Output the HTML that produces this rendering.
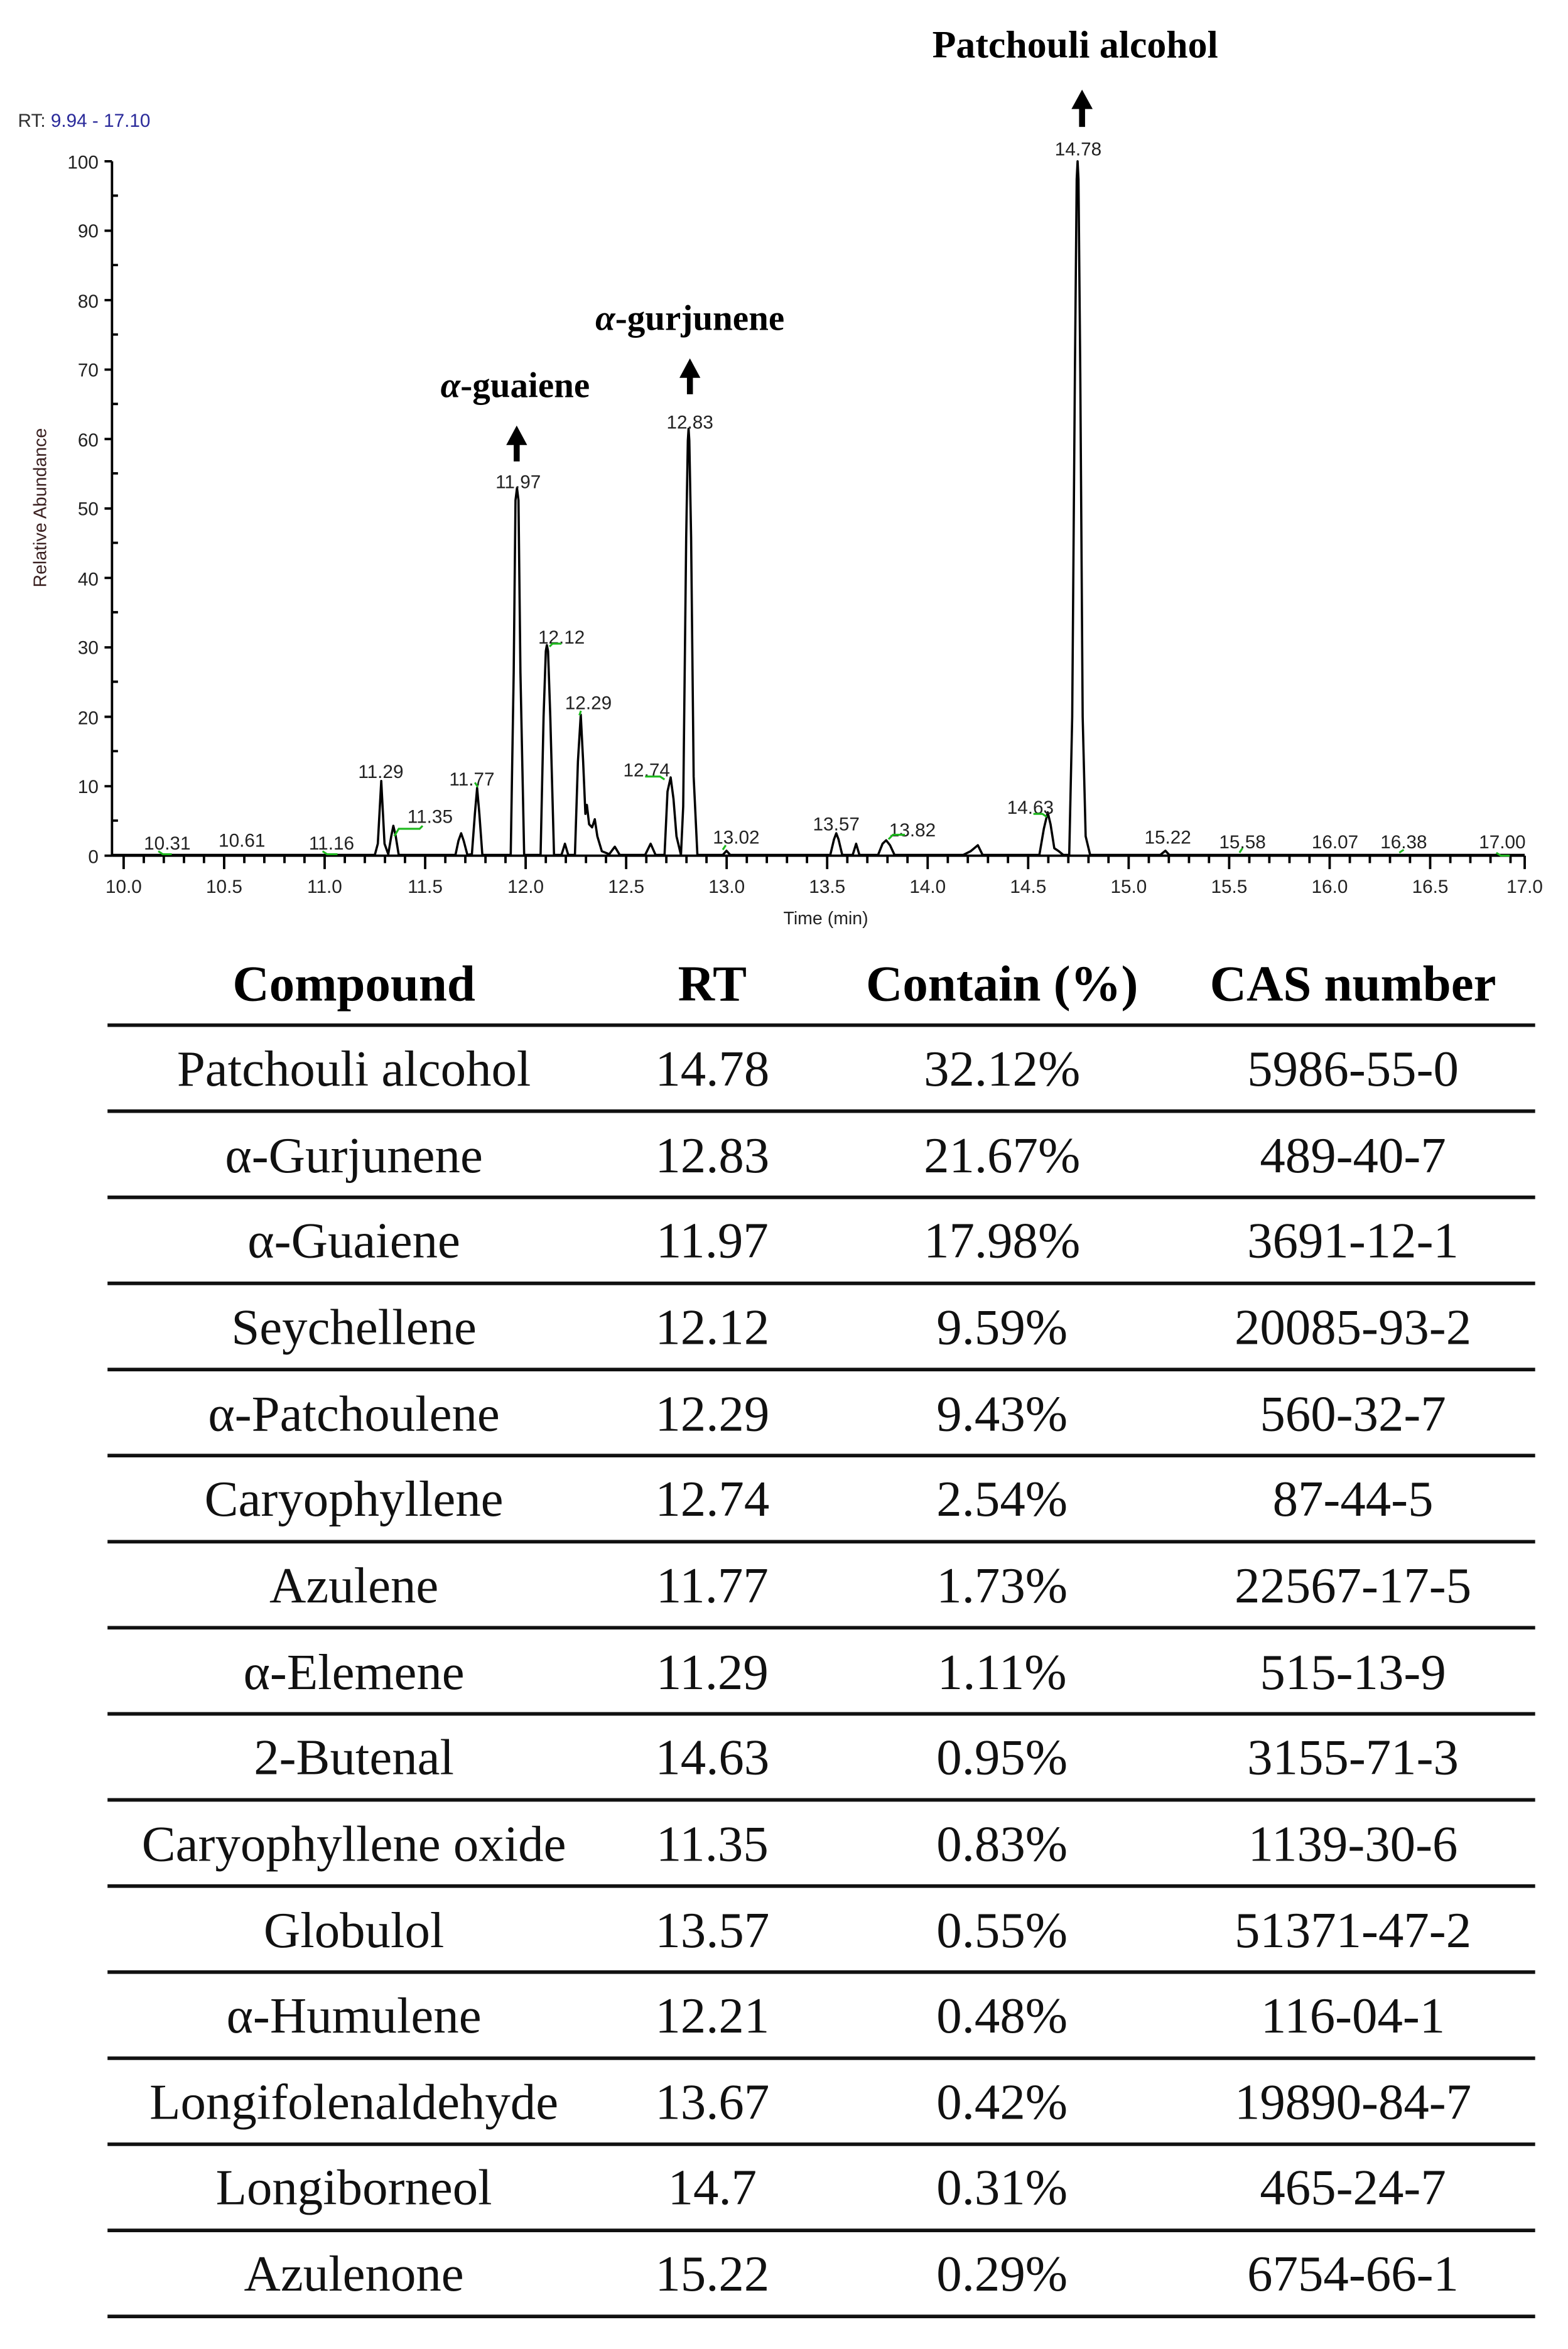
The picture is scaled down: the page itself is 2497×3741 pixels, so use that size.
<!DOCTYPE html>
<html><head><meta charset="utf-8"><style>
html,body{margin:0;padding:0;background:#fff}
svg{display:block}
.s{font-family:"Liberation Sans",sans-serif}
.r{font-family:"Liberation Serif",serif}
</style></head><body>
<svg width="2497" height="3741" viewBox="0 0 1050 1573" preserveAspectRatio="none" xmlns="http://www.w3.org/2000/svg">
<rect width="1050" height="1573" fill="#fff"/>
<text class="r" x="720" y="38.5" font-size="26" font-weight="bold" text-anchor="middle">Patchouli alcohol</text>
<text class="r" x="462" y="221" font-size="24" font-weight="bold" text-anchor="middle"><tspan font-style="italic">α</tspan>-gurjunene</text>
<text class="r" x="345" y="266" font-size="24" font-weight="bold" text-anchor="middle"><tspan font-style="italic">α</tspan>-guaiene</text>
<g fill="#000">
<polygon points="724.6,60 717.5,73 722.6,73 722.6,85 726.6,85 726.6,73 731.7,73"/>
<polygon points="462,240 455,253 460,253 460,264 464,264 464,253 469,253"/>
<polygon points="346,285 339,298 344,298 344,309 348,309 348,298 353,298"/>
</g>
<text class="s" x="12" y="85" font-size="12.5" fill="#2a2a9a"><tspan fill="#333">RT:</tspan> 9.94 - 17.10</text>
<g stroke="#000" stroke-width="1.6" fill="none">
<line x1="75" y1="108" x2="75" y2="573"/>
<line x1="75" y1="573" x2="1021" y2="573"/>
<path d="M70,108H75M70,154.5H75M70,201H75M70,247.5H75M70,294H75M70,340.5H75M70,387H75M70,433.5H75M70,480H75M70,526.5H75M70,573H75"/>
<path d="M75,131H79M75,177.5H79M75,224H79M75,270.5H79M75,317H79M75,363.5H79M75,410H79M75,456.5H79M75,503H79M75,549.5H79"/>
<path d="M82.8,573V582M150.1,573V582M217.4,573V582M284.7,573V582M352,573V582M419.3,573V582M486.6,573V582M553.9,573V582M621.2,573V582M688.5,573V582M755.8,573V582M823.1,573V582M890.4,573V582M957.7,573V582M1021,573V582"/>
<path d="M96.3,573V578M109.7,573V578M123.2,573V578M136.6,573V578M163.6,573V578M177,573V578M190.5,573V578M203.9,573V578M230.9,573V578M244.3,573V578M257.8,573V578M271.2,573V578M298.2,573V578M311.6,573V578M325.1,573V578M338.5,573V578M365.5,573V578M378.9,573V578M392.4,573V578M405.8,573V578M432.8,573V578M446.2,573V578M459.7,573V578M473.1,573V578M500.1,573V578M513.5,573V578M527,573V578M540.4,573V578M567.4,573V578M580.8,573V578M594.3,573V578M607.7,573V578M634.7,573V578M648.1,573V578M661.6,573V578M675,573V578M702,573V578M715.4,573V578M728.9,573V578M742.3,573V578M769.3,573V578M782.7,573V578M796.2,573V578M809.6,573V578M836.6,573V578M850,573V578M863.5,573V578M876.9,573V578M903.9,573V578M917.3,573V578M930.8,573V578M944.2,573V578M971.2,573V578M984.6,573V578M998.1,573V578M1011.5,573V578"/>
</g>
<g class="s" font-size="12.5" fill="#222" text-anchor="end">
<text x="66" y="113">100</text><text x="66" y="159">90</text><text x="66" y="206">80</text><text x="66" y="252">70</text><text x="66" y="299">60</text><text x="66" y="345">50</text><text x="66" y="392">40</text><text x="66" y="438">30</text><text x="66" y="485">20</text><text x="66" y="531">10</text><text x="66" y="578">0</text>
</g>
<g class="s" font-size="12.5" fill="#222" text-anchor="middle">
<text x="82.8" y="598">10.0</text><text x="150.1" y="598">10.5</text><text x="217.4" y="598">11.0</text><text x="284.7" y="598">11.5</text><text x="352" y="598">12.0</text><text x="419.3" y="598">12.5</text><text x="486.6" y="598">13.0</text><text x="553.9" y="598">13.5</text><text x="621.2" y="598">14.0</text><text x="688.5" y="598">14.5</text><text x="755.8" y="598">15.0</text><text x="823.1" y="598">15.5</text><text x="890.4" y="598">16.0</text><text x="957.7" y="598">16.5</text><text x="1021" y="598">17.0</text>
<text x="553" y="619" font-size="12">Time (min)</text>
</g>
<text class="s" font-size="12" fill="#3a2020" text-anchor="middle" transform="translate(31,340) rotate(-90)">Relative Abundance</text>
<path fill="none" stroke="#000" stroke-width="1.5" stroke-linejoin="round" d="M75,572.5 L251,572.5 L253,565 L255.3,523 L257.5,565 L260,572 L262,560 L263.4,553 L265,560 L267,572.5 L305,572.5 L307,563 L308.8,558 L310.5,563 L313,572.5 L316,572 L318,545 L319.5,527.6 L321,545 L323,572.5 L342,572.5 L344,450 L345.2,335 L346.2,326.8 L347.2,335 L348.5,450 L351,572.5 L362,572.5 L364,480 L365.5,436 L366.2,432 L367,436 L368.5,480 L371,572.5 L376,572.5 L378.3,565 L380.5,572.5 L385,572.5 L387,510 L388.9,478.6 L390.5,510 L392,545 L393,539 L394.5,552 L396.5,554 L398.3,548.6 L400,560 L403,570 L408,572 L411.7,567 L415,572.5 L432,572.5 L435.7,565 L439,572.5 L445,572.5 L447,530 L449.1,520.6 L451,535 L453,560 L456,572.5 L457.5,540 L459.5,360 L460.6,295 L461.1,287.1 L461.6,295 L462.8,360 L464.5,520 L467,572.5 L484,572.5 L486.5,569.7 L489,572.5 L556,572.5 L558.5,562 L560,558 L561.5,562 L564,572.5 L571,572.5 L573.3,565 L575.5,572.5 L588,572.5 L591,565 L593.4,562.7 L596,566 L599,572.5 L645,572.5 L650,570 L654.8,566 L658,572.5 L696,572.5 L699,555 L701.6,544 L703.5,552 L706,568 L709,570 L712,572.5 L716,572.5 L718,480 L719.8,250 L721,120 L721.6,108 L722.2,120 L723.4,250 L725,480 L727,560 L730,572.5 L777,572.5 L780.4,569.7 L783,572.5 L1021,572.5"/>
<g class="s" font-size="12.5" fill="#222" text-anchor="middle">
<text x="112" y="569">10.31</text><text x="162" y="567">10.61</text><text x="222" y="569">11.16</text><text x="255" y="521">11.29</text><text x="288" y="551">11.35</text><text x="316" y="526">11.77</text><text x="347" y="327">11.97</text><text x="376" y="431">12.12</text><text x="394" y="475">12.29</text><text x="433" y="520">12.74</text><text x="462" y="287">12.83</text><text x="493" y="565">13.02</text><text x="560" y="556">13.57</text><text x="611" y="560">13.82</text><text x="690" y="545">14.63</text><text x="722" y="104">14.78</text><text x="782" y="565">15.22</text><text x="832" y="568">15.58</text><text x="894" y="568">16.07</text><text x="940" y="568">16.38</text><text x="1006" y="568">17.00</text>
</g>
<g stroke="#1db81d" stroke-width="1.3" fill="none">
<path d="M106,570l3,2h6"/><path d="M216,570l3,2h7"/><path d="M264,560l3,-5h14l2,-2"/><path d="M318,524l2,3"/><path d="M368,433l2,-2h6"/><path d="M388,479l1,-3"/><path d="M432,520h10l3,2"/><path d="M484,569l2,-3"/><path d="M595,562l3,-3h8"/><path d="M692,545h6l3,2"/><path d="M830,571l2,-3"/><path d="M937,571l3,-2"/><path d="M1002,571l3,2h6"/>
</g>
<g class="r" font-size="34" font-weight="bold" text-anchor="middle">
<text x="237" y="670">Compound</text><text x="477" y="670">RT</text><text x="671" y="670">Contain (%)</text><text x="906" y="670">CAS number</text>
</g>
<g stroke="#111" stroke-width="2.4">
<line x1="72" x2="1028" y1="686.5" y2="686.5"/><line x1="72" x2="1028" y1="744.1" y2="744.1"/><line x1="72" x2="1028" y1="801.8" y2="801.8"/><line x1="72" x2="1028" y1="859.4" y2="859.4"/><line x1="72" x2="1028" y1="917.1" y2="917.1"/><line x1="72" x2="1028" y1="974.7" y2="974.7"/><line x1="72" x2="1028" y1="1032.4" y2="1032.4"/><line x1="72" x2="1028" y1="1090" y2="1090"/><line x1="72" x2="1028" y1="1147.7" y2="1147.7"/><line x1="72" x2="1028" y1="1205.3" y2="1205.3"/><line x1="72" x2="1028" y1="1263" y2="1263"/><line x1="72" x2="1028" y1="1320.6" y2="1320.6"/><line x1="72" x2="1028" y1="1378.3" y2="1378.3"/><line x1="72" x2="1028" y1="1435.9" y2="1435.9"/><line x1="72" x2="1028" y1="1493.6" y2="1493.6"/><line x1="72" x2="1028" y1="1551.2" y2="1551.2"/>
</g>
<g class="r" font-size="34" text-anchor="middle" fill="#111">
<text x="237" y="727">Patchouli alcohol</text><text x="477" y="727">14.78</text><text x="671" y="727">32.12%</text><text x="906" y="727">5986-55-0</text>
<text x="237" y="785">α-Gurjunene</text><text x="477" y="785">12.83</text><text x="671" y="785">21.67%</text><text x="906" y="785">489-40-7</text>
<text x="237" y="842">α-Guaiene</text><text x="477" y="842">11.97</text><text x="671" y="842">17.98%</text><text x="906" y="842">3691-12-1</text>
<text x="237" y="900">Seychellene</text><text x="477" y="900">12.12</text><text x="671" y="900">9.59%</text><text x="906" y="900">20085-93-2</text>
<text x="237" y="958">α-Patchoulene</text><text x="477" y="958">12.29</text><text x="671" y="958">9.43%</text><text x="906" y="958">560-32-7</text>
<text x="237" y="1015">Caryophyllene</text><text x="477" y="1015">12.74</text><text x="671" y="1015">2.54%</text><text x="906" y="1015">87-44-5</text>
<text x="237" y="1073">Azulene</text><text x="477" y="1073">11.77</text><text x="671" y="1073">1.73%</text><text x="906" y="1073">22567-17-5</text>
<text x="237" y="1131">α-Elemene</text><text x="477" y="1131">11.29</text><text x="671" y="1131">1.11%</text><text x="906" y="1131">515-13-9</text>
<text x="237" y="1188">2-Butenal</text><text x="477" y="1188">14.63</text><text x="671" y="1188">0.95%</text><text x="906" y="1188">3155-71-3</text>
<text x="237" y="1246">Caryophyllene oxide</text><text x="477" y="1246">11.35</text><text x="671" y="1246">0.83%</text><text x="906" y="1246">1139-30-6</text>
<text x="237" y="1304">Globulol</text><text x="477" y="1304">13.57</text><text x="671" y="1304">0.55%</text><text x="906" y="1304">51371-47-2</text>
<text x="237" y="1361">α-Humulene</text><text x="477" y="1361">12.21</text><text x="671" y="1361">0.48%</text><text x="906" y="1361">116-04-1</text>
<text x="237" y="1419">Longifolenaldehyde</text><text x="477" y="1419">13.67</text><text x="671" y="1419">0.42%</text><text x="906" y="1419">19890-84-7</text>
<text x="237" y="1476">Longiborneol</text><text x="477" y="1476">14.7</text><text x="671" y="1476">0.31%</text><text x="906" y="1476">465-24-7</text>
<text x="237" y="1534">Azulenone</text><text x="477" y="1534">15.22</text><text x="671" y="1534">0.29%</text><text x="906" y="1534">6754-66-1</text>
</g>
</svg>
</body></html>
